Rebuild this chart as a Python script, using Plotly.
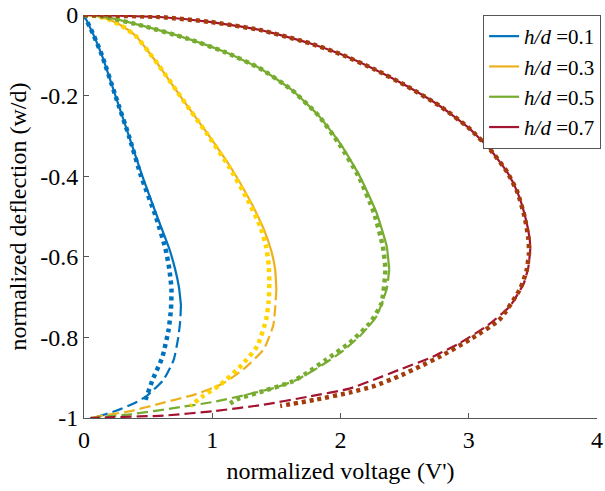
import plotly.graph_objects as go

# ---------------- data ----------------
labels = ["<i>h/d</i> =0.1", "<i>h/d</i> =0.3", "<i>h/d</i> =0.5", "<i>h/d</i> =0.7"]

# h/d = 0.1
b_sol_x = [0, 0.075, 0.14, 0.245, 0.35, 0.455, 0.57, 0.665, 0.71, 0.74, 0.756]
b_sol_y = [0, -0.05, -0.10, -0.20, -0.30, -0.40, -0.50, -0.58, -0.63, -0.675, -0.72]
b_dsh_x = [0.756, 0.75, 0.735, 0.70, 0.62, 0.49, 0.40, 0.25, 0.12, 0.05]
b_dsh_y = [-0.72, -0.76, -0.80, -0.855, -0.905, -0.945, -0.962, -0.982, -0.995, -1.0]
b_dot_x = [0, 0.075, 0.14, 0.245, 0.35, 0.445, 0.56, 0.635, 0.665, 0.682, 0.678, 0.66, 0.61, 0.535, 0.48]
b_dot_y = [0, -0.05, -0.10, -0.20, -0.30, -0.40, -0.50, -0.58, -0.63, -0.68, -0.73, -0.78, -0.85, -0.905, -0.955]

# h/d = 0.3
y_sol_x = [0, 0.1, 0.2, 0.3, 0.41, 0.5, 0.59, 0.77, 0.96, 1.14, 1.29, 1.40, 1.46, 1.49, 1.50]
y_sol_y = [0, -0.003, -0.012, -0.028, -0.054, -0.09, -0.128, -0.21, -0.293, -0.376, -0.458, -0.53, -0.585, -0.63, -0.68]
y_dsh_x = [1.50, 1.476, 1.40, 1.24, 1.08, 0.86, 0.62, 0.36, 0.125, 0.05]
y_dsh_y = [-0.68, -0.77, -0.83, -0.88, -0.915, -0.942, -0.962, -0.983, -0.995, -1.0]
y_dot_x = [0, 0.1, 0.2, 0.3, 0.41, 0.5, 0.59, 0.77, 0.955, 1.13, 1.275, 1.375, 1.42, 1.44, 1.445, 1.44, 1.42, 1.35, 1.22, 1.06, 0.93, 0.83]
y_dot_y = [0, -0.003, -0.012, -0.028, -0.054, -0.09, -0.128, -0.21, -0.293, -0.376, -0.458, -0.525, -0.575, -0.62, -0.665, -0.71, -0.756, -0.822, -0.872, -0.918, -0.945, -0.97]

# h/d = 0.5
g_sol_x = [0, 0.15, 0.46, 0.80, 1.10, 1.37, 1.62, 1.83, 2.00, 2.15, 2.28, 2.36, 2.38]
g_sol_y = [0, -0.004, -0.027, -0.058, -0.092, -0.132, -0.186, -0.25, -0.32, -0.40, -0.49, -0.574, -0.632]
g_dsh_x = [2.38, 2.36, 2.28, 2.15, 2.0, 1.84, 1.66, 1.50, 1.27, 1.01, 0.75, 0.36, 0.15, 0.05]
g_dsh_y = [-0.632, -0.68, -0.748, -0.797, -0.838, -0.872, -0.905, -0.924, -0.942, -0.96, -0.973, -0.991, -0.997, -1.0]
g_dot_x = [0, 0.15, 0.46, 0.80, 1.10, 1.37, 1.62, 1.83, 1.99, 2.14, 2.26, 2.33, 2.35, 2.32, 2.23, 2.07, 1.89, 1.74, 1.62, 1.40, 1.19, 1.11]
g_dot_y = [0, -0.004, -0.027, -0.058, -0.092, -0.132, -0.186, -0.25, -0.32, -0.40, -0.49, -0.574, -0.632, -0.715, -0.764, -0.814, -0.855, -0.888, -0.91, -0.933, -0.954, -0.97]

# h/d = 0.7
r_sol_x = [0, 0.15, 0.59, 0.98, 1.37, 1.76, 2.0, 2.26, 2.52, 2.78, 3.0, 3.17, 3.30, 3.38, 3.44, 3.475, 3.48]
r_sol_y = [0, -0.001, -0.005, -0.017, -0.037, -0.07, -0.097, -0.134, -0.177, -0.227, -0.28, -0.335, -0.39, -0.44, -0.50, -0.555, -0.58]
r_dsh_x = [3.48, 3.465, 3.43, 3.32, 3.14, 2.93, 2.72, 2.46, 2.26, 2.07, 1.75, 1.40, 1.01, 0.62, 0.23, 0.05]
r_dsh_y = [-0.58, -0.625, -0.665, -0.723, -0.772, -0.814, -0.848, -0.88, -0.905, -0.927, -0.947, -0.967, -0.983, -0.994, -0.998, -1.0]
r_dot_x = [0, 0.15, 0.59, 0.98, 1.37, 1.76, 2.0, 2.26, 2.52, 2.78, 3.0, 3.17, 3.30, 3.38, 3.435, 3.465, 3.47, 3.45, 3.40, 3.24, 3.01, 2.78, 2.62, 2.46, 2.26, 2.07, 1.80, 1.53]
r_dot_y = [0, -0.001, -0.005, -0.017, -0.037, -0.07, -0.097, -0.134, -0.177, -0.227, -0.28, -0.335, -0.39, -0.44, -0.50, -0.555, -0.59, -0.635, -0.68, -0.756, -0.805, -0.847, -0.872, -0.896, -0.921, -0.937, -0.955, -0.97]

x_ticks = [0, 1, 2, 3, 4]
x_ticktext = ["0", "1", "2", "3", "4"]
y_ticks = [-1, -0.8, -0.6, -0.4, -0.2, 0]
y_ticktext = ["-1", "-0.8", "-0.6", "-0.4", "-0.2", "0"]

line_colors = ["#0072BD", "#EDB120", "#77AC30", "#A2142F"]
dot_colors = ["#0072BD", "#FFD500", "#77AC30", "#A33C0A"]

series = [
    (b_sol_x, b_sol_y, b_dsh_x, b_dsh_y, b_dot_x, b_dot_y),
    (y_sol_x, y_sol_y, y_dsh_x, y_dsh_y, y_dot_x, y_dot_y),
    (g_sol_x, g_sol_y, g_dsh_x, g_dsh_y, g_dot_x, g_dot_y),
    (r_sol_x, r_sol_y, r_dsh_x, r_dsh_y, r_dot_x, r_dot_y),
]

FONT = "Times New Roman, Liberation Serif, serif"
SM = 0.5

fig = go.Figure()
for i, (sx, sy, dx, dy, ox, oy) in enumerate(series):
    fig.add_trace(go.Scatter(x=sx, y=sy, mode="lines", name=labels[i],
                             line=dict(color=line_colors[i], width=2.2, shape="spline", smoothing=SM)))
    fig.add_trace(go.Scatter(x=dx, y=dy, mode="lines", showlegend=False,
                             line=dict(color=line_colors[i], width=2.2, dash="11px,5px", shape="spline", smoothing=SM)))
for i, (sx, sy, dx, dy, ox, oy) in enumerate(series):
    fig.add_trace(go.Scatter(x=ox, y=oy, mode="lines", showlegend=False,
                             line=dict(color=dot_colors[i], width=4.5, dash="4px,4px", shape="spline", smoothing=SM)))

fig.update_layout(
    width=605, height=491,
    margin=dict(l=84, r=8, t=15, b=73, autoexpand=False),
    paper_bgcolor="white", plot_bgcolor="white",
    font=dict(family=FONT, size=24, color="black"),
    showlegend=True,
    legend=dict(x=0.778, y=1.0, xanchor="left", yanchor="top",
                bgcolor="white", bordercolor="#555555", borderwidth=1,
                font=dict(family=FONT, size=21, color="black"),
                tracegroupgap=0, itemwidth=30),
    xaxis=dict(range=[0, 4], tickvals=x_ticks, ticktext=x_ticktext,
               ticks="inside", ticklen=5, tickcolor="#555555",
               showline=True, linecolor="#555555", linewidth=1,
               showgrid=False, zeroline=False, mirror=False, automargin=False,
               title=dict(text="normalized voltage (V')", font=dict(size=24), standoff=10),
               tickfont=dict(size=24)),
    yaxis=dict(range=[-1, 0], tickvals=y_ticks, ticktext=y_ticktext,
               ticks="inside", ticklen=5, tickcolor="#555555",
               showline=True, linecolor="#555555", linewidth=1,
               showgrid=False, zeroline=False, mirror=False, automargin=False,
               title=dict(text="normalized deflection (w/d)", font=dict(size=24), standoff=6),
               tickfont=dict(size=24)),
)

fig.write_html("out.html", config={"displayModeBar": False},
               post_script="document.body.style.margin='0';")
